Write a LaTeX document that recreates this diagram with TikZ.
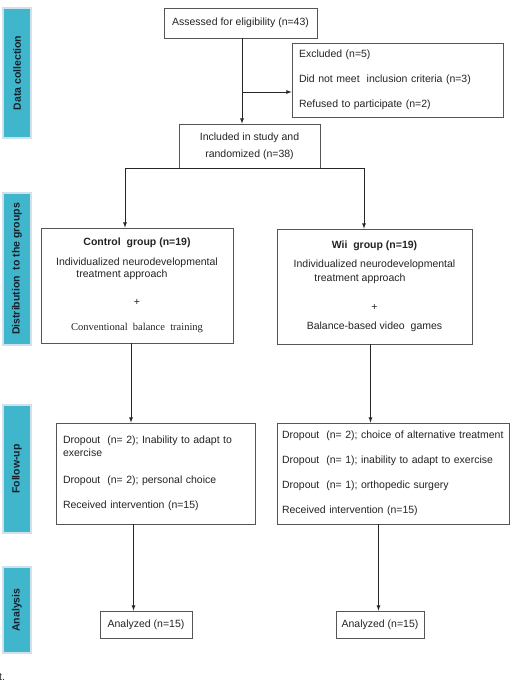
\documentclass[tikz,border=0pt]{standalone}
\usepackage{fontspec}
\setmainfont{Liberation Sans}
\newfontfamily\serifface{Liberation Serif}
\definecolor{PhaseBlue}{RGB}{64,182,205}
\definecolor{PhaseEdge}{RGB}{208,226,233}
\definecolor{PhaseText}{RGB}{22,32,42}
\definecolor{LineGrey}{RGB}{85,85,85}
\definecolor{TextGrey}{RGB}{35,35,35}
\tikzstyle{BoxNode}=[rectangle, draw=LineGrey, line width=0.8pt, inner sep=0pt, align=center, text=TextGrey, font=\fontsize{10.5}{12}\selectfont]
\tikzstyle{ListNode}=[BoxNode, align=left, inner xsep=7pt]
\tikzstyle{PhaseNode}=[rectangle, fill=PhaseBlue, draw=PhaseEdge, line width=1.5pt, minimum height=28pt, rotate=90, text=PhaseText, font=\fontsize{10.5}{12}\selectfont\bfseries]
\tikzstyle{Line}=[draw=black!85, line width=0.8pt]
\tikzstyle{Edge}=[Line, ->]
\tikzset{>=latex}

\begin{document}
\begin{tikzpicture}[x=1pt, y=-1pt]
\useasboundingbox (0,0) rectangle (515,687);
\node[PhaseNode, minimum width=130pt](PHASE0) at (17,73) {Data collection};
\node[PhaseNode, minimum width=152pt](PHASE1) at (17,269) {Distribution\ \ to the groups};
\node[PhaseNode, minimum width=128pt](PHASE2) at (17,469) {Follow-up};
\node[PhaseNode, minimum width=86pt](PHASE3) at (17,610) {Analysis};

\node[BoxNode, minimum width=153pt, minimum height=30pt](ASSESS) at (240.5,23) {Assessed for eligibility (n=43)};
\node[ListNode, text width=197pt, minimum height=74pt](EXCL) at (397.5,80) {Excluded (n=5)\\[13pt]Did not meet\ \ inclusion criteria (n=3)\\[13pt]Refused to participate (n=2)};
\node[BoxNode, minimum width=141pt, minimum height=44pt](INCL) at (249.5,146) {Included in study and\\[5pt]randomized (n=38)};
\node[BoxNode, minimum width=192pt, minimum height=115pt](CTRL) at (137,285.5) {\textbf{Control\ \ group (n=19)}\\[8pt]Individualized neurodevelopmental\\treatment approach\kern30pt\\[16pt]+\\[13pt]{\serifface Conventional\ \ balance\ \ training}};
\node[BoxNode, minimum width=195pt, minimum height=115pt](WII) at (374.5,286.5) {\textbf{Wii\ \ group (n=19)}\\[7pt]Individualized neurodevelopmental\\[2pt]treatment approach\kern29pt\\[17pt]+\\[7pt]Balance-based video\ \ games};
\node[ListNode, text width=185pt, minimum height=101pt](CTRLFU) at (155.5,473.5) {Dropout\ \ (n= 2); Inability to adapt to\\[1pt]exercise\\[15pt]Dropout\ \ (n= 2); personal choice\\[13pt]Received intervention (n=15)};
\node[ListNode, inner xsep=5pt, text width=222pt, minimum height=101pt](WIIFU) at (393,473.5) {Dropout\ \ (n= 2); choice of alternative treatment\\[13pt]Dropout\ \ (n= 1); inability to adapt to exercise\\[13pt]Dropout\ \ (n= 1); orthopedic surgery\\[13pt]Received intervention (n=15)};
\node[BoxNode, minimum width=92pt, minimum height=27pt](ANA0) at (146,624.5) {Analyzed (n=15)};
\node[BoxNode, minimum width=88pt, minimum height=27pt](ANA1) at (380,624.5) {Analyzed (n=15)};
\node[anchor=west, inner sep=0pt, text=TextGrey, font=\fontsize{10.5}{12}\selectfont](TAIL) at (-1,677) {t.};

\coordinate (SPLIT) at (242,92);
\coordinate (FORK0) at (125,168);
\coordinate (FORK1) at (364,168);

\draw[Edge](ASSESS.south -| SPLIT) -- (INCL.north -| SPLIT);
\draw[Edge](SPLIT) -- (SPLIT -| EXCL.west);
\draw[Line](FORK0) -- (FORK1);
\draw[Edge](FORK0) -- (FORK0 |- CTRL.north);
\draw[Edge](FORK1) -- (FORK1 |- WII.north);
\draw[Edge]([xshift=-6pt]CTRL.south) -- ([xshift=-6pt]CTRL.south |- CTRLFU.north);
\draw[Edge]([xshift=-4pt]WII.south) -- ([xshift=-4pt]WII.south |- WIIFU.north);
\draw[Edge]([xshift=-22pt]CTRLFU.south) -- ([xshift=-22pt]CTRLFU.south |- ANA0.north);
\draw[Edge]([xshift=-14.5pt]WIIFU.south) -- ([xshift=-14.5pt]WIIFU.south |- ANA1.north);
\end{tikzpicture}
\end{document}
